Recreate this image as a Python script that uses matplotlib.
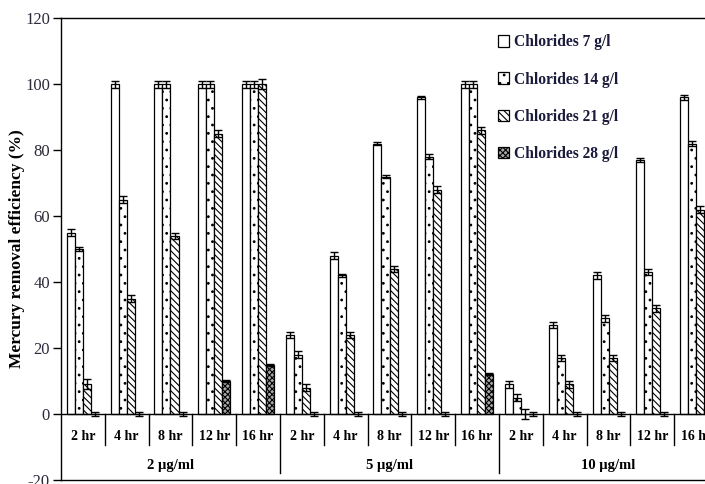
import matplotlib
matplotlib.use("Agg")
import matplotlib.pyplot as plt
import numpy as np

plt.rcParams['font.family'] = ['Liberation Serif', 'DejaVu Serif']
plt.rcParams['hatch.linewidth'] = 0.8
plt.rcParams['axes.unicode_minus'] = False

# Sampling times and initial mercury concentrations
times = ["2 hr", "4 hr", "8 hr", "12 hr", "16 hr"]
concentrations = ["2 \u00b5g/ml", "5 \u00b5g/ml", "10 \u00b5g/ml"]
series_labels = ["Chlorides 7 g/l", "Chlorides 14 g/l", "Chlorides 21 g/l", "Chlorides 28 g/l"]

# Removal efficiency (%) per chloride level, ordered 2/5/10 ug/ml x 2..16 hr
chl_7 = [55, 100, 100, 100, 100, 24, 48, 82, 96, 100, 9, 27, 42, 77, 96]
chl_14 = [50, 65, 100, 100, 100, 18, 42, 72, 78, 100, 5, 17, 29, 43, 82]
chl_21 = [9, 35, 54, 85, 100, 8, 24, 44, 68, 86, 0, 9, 17, 32, 62]
chl_28 = [0, 0, 0, 10, 15, 0, 0, 0, 0, 12, 0, 0, 0, 0, 2]

# Standard deviations
err_7 = [1, 1, 1, 1, 1, 1, 1, 0.5, 0.5, 1, 1, 1, 1, 0.7, 0.7]
err_14 = [0.7, 1, 1, 1, 1, 1, 0.6, 0.5, 0.7, 1, 1, 1, 1, 1, 0.7]
err_21 = [1.5, 1, 1, 1, 1.5, 1, 1, 1, 1, 1, 1.5, 1, 1, 1, 1]
err_28 = [0.5, 0.5, 0.5, 0.3, 0.3, 0.5, 0.5, 0.5, 0.5, 0.3, 0.5, 0.5, 0.5, 0.5, 0.3]

values = [chl_7, chl_14, chl_21, chl_28]
errors = [err_7, err_14, err_21, err_28]
styles = [
    dict(facecolor="white", hatch=None),
    dict(facecolor="white", hatch=".."),
    dict(facecolor="white", hatch="\\\\\\\\\\"),
    dict(facecolor="#a8a8a8", hatch="xxxxxx"),
]

fig = plt.figure(figsize=(7.05, 4.84), dpi=100)
ax = fig.add_axes([0.0865, 0.0083, 0.932, 0.954])

n_cat = len(times) * len(concentrations)
x = np.arange(n_cat)
width = 0.183
offsets = (np.arange(4) - 1.5) * width

for vals, errs, off, st, lab in zip(values, errors, offsets, styles, series_labels):
    ax.bar(x + off, vals, width, facecolor=st["facecolor"], hatch=st["hatch"],
           edgecolor="black", linewidth=0.9, label=lab, zorder=2)
    ax.errorbar(x + off, vals, yerr=errs, fmt="none", ecolor="black",
                elinewidth=1.0, capsize=3.2, capthick=1.0, zorder=3)

ax.set_xlim(-0.5, n_cat - 0.5)
ax.set_ylim(-20, 120)
ax.set_yticks(np.arange(-20, 121, 20))
ax.tick_params(axis="y", direction="out", length=6, width=1, pad=2,
               labelsize=12, labelcolor="#2a2a3a")
ax.set_xticks([])
for s in ["left", "top", "bottom", "right"]:
    ax.spines[s].set_linewidth(1.0)

# Zero line and category separators below it
ax.axhline(0, color="black", lw=1.0, zorder=4)
for i in range(n_cat - 1):
    bottom = -18 if (i + 1) % len(times) == 0 else -9.5
    ax.plot([i + 0.5, i + 0.5], [0, bottom], color="black", lw=1.0)

# Time labels and concentration labels
for i in range(n_cat):
    ax.text(x[i], -6.9, times[i % len(times)], ha="center", va="center",
            fontsize=10, fontweight="bold")
for g, conc in enumerate(concentrations):
    center = g * len(times) + (len(times) - 1) / 2
    ax.text(center, -15.7, conc, ha="center", va="center",
            fontsize=10.5, fontweight="bold")

ax.set_ylabel("Mercury removal efficiency (%)", fontsize=12.5, fontweight="bold")
ax.yaxis.set_label_coords(-0.055, 0.5)

leg = ax.legend(loc="upper left", bbox_to_anchor=(0.706, 0.929),
                bbox_transform=fig.transFigure, frameon=False,
                prop=dict(size=11.2, weight="bold"), labelspacing=1.36,
                handlelength=0.75, handleheight=0.75, handletextpad=0.3,
                borderaxespad=0, borderpad=0)
for t in leg.get_texts():
    t.set_color("#1a1a3a")

fig.savefig("out.png", dpi=100)
